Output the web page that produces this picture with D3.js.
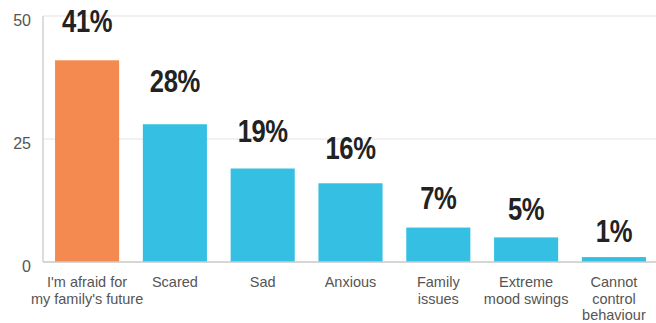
<!DOCTYPE html>
<html>
<head>
<meta charset="utf-8">
<script src="https://cdn.jsdelivr.net/npm/d3@7"></script>
<style>
  body { margin: 0; background: #fff; }
  svg { display: block; }
</style>
</head>
<body>
<svg width="656" height="323"></svg>
<script>
// data
var categories = ["I'm afraid for\nmy family's future", "Scared", "Sad", "Anxious",
                  "Family\nissues", "Extreme\nmood swings", "Cannot\ncontrol\nbehaviour"];
var values = [41, 28, 19, 16, 7, 5, 1];
var highlight = [true, false, false, false, false, false, false];
var yTicks = [0, 25, 50];

var svg = d3.select("svg"),
    margin = {top: 16, right: -2, bottom: 61, left: 43},
    width = +svg.attr("width") - margin.left - margin.right,
    height = +svg.attr("height") - margin.top - margin.bottom;

var data = categories.map(function(c, i) { return {name: c, value: values[i], hi: highlight[i]}; });

var x = d3.scaleBand()
    .domain(categories)
    .range([0, width])
    .paddingInner(0.27)
    .paddingOuter(0.137);

var y = d3.scaleLinear().domain([0, 50]).range([height, 0]);

// value labels float on their own scale, kept inside the top
var labelY = d3.scaleLinear().domain([0, 50]).range([height - 14, -47]);

var g = svg.append("g")
    .attr("transform", "translate(" + margin.left + "," + margin.top + ")");

// gridlines
g.append("g")
    .selectAll("line")
    .data(yTicks.filter(function(t) { return t > 0; }))
    .enter().append("line")
    .attr("x1", 0)
    .attr("x2", width)
    .attr("y1", function(d) { return y(d); })
    .attr("y2", function(d) { return y(d); })
    .style("stroke", "#ececec")
    .style("stroke-width", 1.5);

// y axis line
g.append("line")
    .attr("x1", 0).attr("x2", 0)
    .attr("y1", y(50)).attr("y2", y(0))
    .style("stroke", "#dcdcdc")
    .style("stroke-width", 2);

// tick labels
g.append("g")
    .selectAll("text")
    .data(yTicks)
    .enter().append("text")
    .attr("x", -12)
    .attr("y", function(d) { return y(d); })
    .attr("dy", "0.6em")
    .attr("text-anchor", "end")
    .style("font-family", "'Liberation Sans', Arial, sans-serif")
    .style("font-size", "16px")
    .style("fill", "#555")
    .text(function(d) { return d; });

// bars
g.selectAll(".bar")
    .data(data)
    .enter().append("rect")
    .attr("class", "bar")
    .attr("x", function(d) { return x(d.name); })
    .attr("width", x.bandwidth())
    .attr("y", function(d) { return y(d.value); })
    .attr("height", function(d) { return y(0) - y(d.value); })
    .style("fill", function(d) { return d.hi ? "#f58a50" : "#35c0e3"; });

// baseline
g.append("line")
    .attr("x1", 0).attr("x2", width)
    .attr("y1", y(0)).attr("y2", y(0))
    .style("stroke", "#c8c8c8")
    .style("stroke-width", 1.5);

// value labels (bold, squeezed to look condensed)
g.selectAll(".value")
    .data(data)
    .enter().append("text")
    .attr("class", "value")
    .attr("transform", function(d) {
        return "translate(" + (x(d.name) + x.bandwidth() / 2) + "," + Math.max(labelY(d.value), 16) + ") scale(0.8,1)";
    })
    .attr("text-anchor", "middle")
    .style("font-family", "'Liberation Sans', Arial, sans-serif")
    .style("font-weight", "bold")
    .style("font-size", "32px")
    .style("letter-spacing", "-0.5px")
    .style("fill", "#222")
    .text(function(d) { return d.value + "%"; });

// category labels
var cat = g.selectAll(".cat")
    .data(data)
    .enter().append("text")
    .attr("class", "cat")
    .attr("x", function(d) { return x(d.name) + x.bandwidth() / 2; })
    .attr("y", y(0) + 25)
    .attr("text-anchor", "middle")
    .style("font-family", "'Liberation Sans', Arial, sans-serif")
    .style("font-size", "14.5px")
    .style("fill", "#555");

cat.selectAll("tspan")
    .data(function(d) { return d.name.split("\n"); })
    .enter().append("tspan")
    .attr("x", function() { return d3.select(this.parentNode).attr("x"); })
    .attr("dy", function(d, i) { return i ? 16.5 : 0; })
    .text(function(d) { return d; });
</script>
</body>
</html>
